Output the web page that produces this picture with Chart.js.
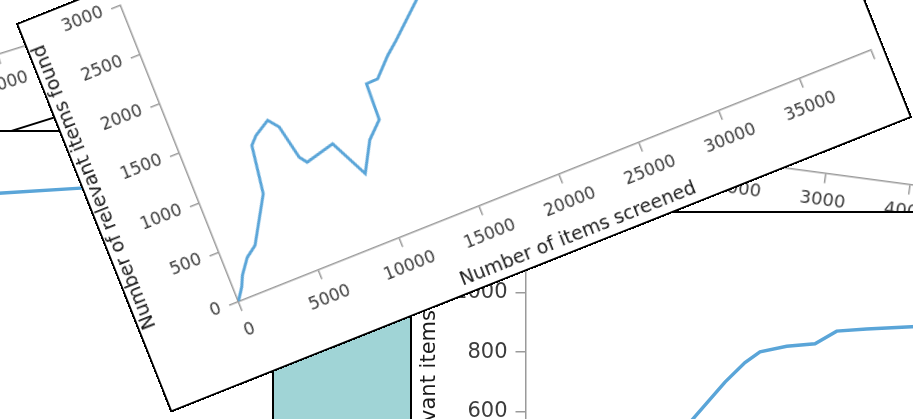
<!DOCTYPE html>
<html>
<head>
<meta charset="utf-8">
<script src="https://cdn.jsdelivr.net/npm/chart.js@4.4.1/dist/chart.umd.min.js"></script>
<style>
  html, body { margin: 0; padding: 0; background: #fff; }
  body { position: relative; width: 913px; height: 419px; overflow: hidden; }
  .card { position: absolute; box-sizing: border-box; border: 2px solid #000; background: #fff; overflow: hidden; transform-origin: 50% 50%; }
  .card canvas { position: absolute; left: 0; top: 0; }
  #cardE { background: #a0d4d6; }
</style>
</head>
<body>
<div class="card" id="cardA"><canvas id="chartA"></canvas></div>
<div class="card" id="cardF"><canvas id="chartF"></canvas></div>
<div class="card" id="cardB"><canvas id="chartB"></canvas></div>
<div class="card" id="cardE"></div>
<div class="card" id="cardD"><canvas id="chartD"></canvas></div>
<div class="card" id="cardMain"><canvas id="chartMain"></canvas></div>
<script>
// front card: relevant items found vs items screened
const screened = [0, 490, 780, 1430, 2100, 3650, 4070, 4510, 5460, 5940, 6370, 6690, 8460, 9580,
  10550, 11490, 11570, 12280, 13330, 14100, 16030, 18500, 21500, 25000, 29000, 34000, 39500];
const relevantFound = [0, 115, 215, 355, 432, 854, 1315, 1389, 1480, 1382, 1049, 977, 1049, 675,
  955, 1098, 1455, 1460, 1630, 1731, 2010, 2350, 2600, 2780, 2880, 2950, 2990];
const screenedTicks = [0, 5000, 10000, 15000, 20000, 25000, 30000, 35000, 39500];
const foundTicks = [0, 500, 1000, 1500, 2000, 2500, 3000];

// card at the lower right
const runDScreened = [1600, 1955, 2347, 2582, 2759, 3073, 3406, 3661, 4014, 4544, 5200];
const runDFound = [455, 570, 699, 765, 801, 820, 828, 871, 878, 886, 895];

// card at the left, behind the front one
const runBScreened = [5000, 5600, 6600, 8000, 9500];
const runBFound = [1048, 1063, 1081, 1098, 1108];

const smallScreenedTicks = [0, 1000, 2000, 3000, 4000, 5000, 6000, 7000, 8000];
const wideScreenedTicks = [0, 1000, 2000, 3000, 4000, 5000, 6000, 7000, 8000, 9000, 10000];
const smallFoundTicks = [0, 200, 400, 600, 800, 1000, 1200];

const FONT = 'DejaVu Sans';
const LINE = '#5aa5d8';
const AXIS = '#9a9a9a';
const TICK = '#3c3c3c';
const TITLE = '#1a1a1a';

function place(id, w, h, deg, lx, ly, X, Y) {
  const el = document.getElementById(id);
  const t = deg * Math.PI / 180, c = Math.cos(t), s = Math.sin(t);
  const dx = lx - w / 2, dy = ly - h / 2;
  const cx = X - (dx * c - dy * s), cy = Y - (dx * s + dy * c);
  el.style.width = w + 'px';
  el.style.height = h + 'px';
  el.style.left = (cx - w / 2) + 'px';
  el.style.top = (cy - h / 2) + 'px';
  if (deg) el.style.transform = 'rotate(' + deg + 'deg)';
}

function toPoints(xs, ys) {
  return xs.map((x, i) => ({ x: x, y: ys[i] }));
}

function buildChart(id, o) {
  const canvas = document.getElementById(id);
  canvas.width = o.w;
  canvas.height = o.h;
  const a = o.area;
  const tickFont = { family: FONT, size: o.tickSize };
  const titleFont = { family: FONT, size: o.titleSize };
  const datasets = o.points ? [{
    data: o.points,
    borderColor: LINE,
    borderWidth: o.lineWidth,
    pointRadius: 0,
    tension: 0,
    fill: false
  }] : [];

  return new Chart(canvas, {
    type: 'line',
    data: { datasets: datasets },
    options: {
      responsive: false,
      animation: false,
      devicePixelRatio: 1,
      layout: { padding: { left: 0, top: a.top, right: o.w - a.right, bottom: 0 } },
      plugins: { legend: { display: false }, tooltip: { enabled: false } },
      scales: {
        x: {
          type: 'linear',
          min: o.xMin,
          max: o.xMax,
          afterBuildTicks: s => { s.ticks = o.xTicks.map(v => ({ value: v })); },
          afterFit: s => { s.height = o.h - a.bottom; },
          border: { color: AXIS, width: 1.5 },
          grid: { drawOnChartArea: false, color: AXIS, lineWidth: 1.5, tickLength: 10 },
          ticks: {
            autoSkip: false,
            maxRotation: 0,
            padding: o.xPad,
            color: TICK,
            font: tickFont,
            callback: (v, i, ticks) => (o.hideLastX && i === ticks.length - 1) ? '' : String(v)
          },
          title: {
            display: true,
            text: 'Number of items screened',
            color: TITLE,
            font: titleFont,
            padding: { top: 0, bottom: o.xTitlePad }
          }
        },
        y: {
          type: 'linear',
          min: o.yMin,
          max: o.yMax,
          afterBuildTicks: s => { s.ticks = o.yTicks.map(v => ({ value: v })); },
          afterFit: s => { s.width = a.left; },
          border: { color: AXIS, width: 1.5 },
          grid: { drawOnChartArea: false, color: AXIS, lineWidth: 1.5, tickLength: 10 },
          ticks: {
            padding: o.yPad,
            color: TICK,
            font: tickFont,
            callback: v => String(v)
          },
          title: {
            display: true,
            text: 'Number of relevant items found',
            color: TITLE,
            font: titleFont,
            padding: { top: o.yTitlePad, bottom: 0 }
          }
        }
      }
    }
  });
}

// layouts of the cards
const frontArea = { left: 102, top: 19.4, right: 783, bottom: 338.7 };
const bigArea = { left: 113.5, top: 16.3, right: 836, bottom: 376.3 };

place('cardA', 798, 419, -17.4, 2 + 102 + 5000 / 39500 * 681, 340.7, -1.9, 54.6);
place('cardF', 798, 419, 7.6, 2 + 102 + 3000 / 8000 * 680, 340.7, 825.7, 173.4);
place('cardB', 1000, 470, 0, 0, 0, -600, 130);
place('cardE', 300, 200, 0, 0, 0, 272, 300);
place('cardD', 860, 470, 0, 0, 0, 410, 211);
place('cardMain', 798, 419, -21.7, 104, 340.7, 238.3, 301.7);

buildChart('chartA', {
  w: 794, h: 415, area: frontArea,
  xMin: 0, xMax: 39500, xTicks: screenedTicks, hideLastX: true,
  yMin: 0, yMax: 3000, yTicks: foundTicks,
  tickSize: 17, titleSize: 19, xPad: 11, yPad: 9, xTitlePad: 2, yTitlePad: 0
});

buildChart('chartF', {
  w: 794, h: 415, area: { left: 102, top: 19.4, right: 782, bottom: 338.7 },
  xMin: 0, xMax: 8000, xTicks: smallScreenedTicks, hideLastX: true,
  yMin: 0, yMax: 1200, yTicks: smallFoundTicks,
  tickSize: 18, titleSize: 19, xPad: 7, yPad: 9, xTitlePad: 2, yTitlePad: 0
});

buildChart('chartB', {
  w: 996, h: 466, area: { left: 113.5, top: 16.3, right: 976, bottom: 376.3 },
  points: toPoints(runBScreened, runBFound), lineWidth: 3.5,
  xMin: 0, xMax: 10000, xTicks: wideScreenedTicks, hideLastX: true,
  yMin: 0, yMax: 1200, yTicks: smallFoundTicks,
  tickSize: 21, titleSize: 21, xPad: 10, yPad: 8, xTitlePad: 2, yTitlePad: 5
});

buildChart('chartD', {
  w: 856, h: 466, area: bigArea,
  points: toPoints(runDScreened, runDFound), lineWidth: 3.5,
  xMin: 0, xMax: 8500, xTicks: smallScreenedTicks, hideLastX: true,
  yMin: 0, yMax: 1200, yTicks: smallFoundTicks,
  tickSize: 21, titleSize: 21, xPad: 10, yPad: 8, xTitlePad: 2, yTitlePad: 5
});

buildChart('chartMain', {
  w: 794, h: 415, area: frontArea,
  points: toPoints(screened, relevantFound), lineWidth: 3,
  xMin: 0, xMax: 39500, xTicks: screenedTicks, hideLastX: true,
  yMin: 0, yMax: 3000, yTicks: foundTicks,
  tickSize: 17, titleSize: 19, xPad: 11, yPad: 9, xTitlePad: 2, yTitlePad: 0
});
</script>
</body>
</html>
